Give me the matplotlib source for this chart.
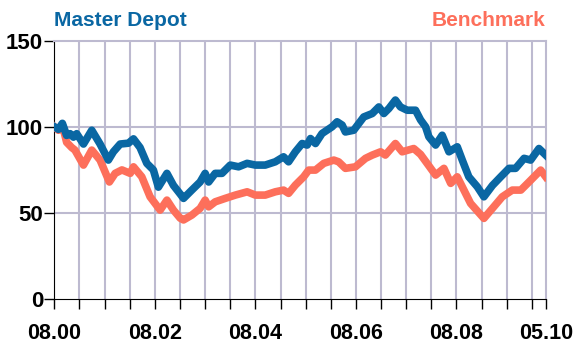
import matplotlib
matplotlib.use('Agg')
import matplotlib.pyplot as plt

# time axis in months since start (gridline spacing = 1)
depot_t = [0.0, 0.16, 0.32, 0.49, 0.63, 0.76, 0.89, 1.16, 1.49, 1.82, 2.15, 2.35, 2.62, 2.95,
           3.15, 3.41, 3.68, 3.94, 4.14, 4.48, 4.74, 5.01, 5.14, 5.47, 5.80, 6.00, 6.14, 6.40,
           6.67, 7.00, 7.33, 7.67, 8.00, 8.39, 8.79, 9.12, 9.32, 9.59, 9.86, 10.06, 10.19,
           10.39, 10.65, 11.05, 11.25, 11.45, 11.58, 11.91, 12.31, 12.65, 12.91, 13.11, 13.31,
           13.57, 13.77, 14.04, 14.37, 14.57, 14.77, 14.90, 15.17, 15.43, 15.70, 16.03, 16.23,
           16.49, 16.83, 17.09, 17.43, 17.76, 18.09, 18.35, 18.69, 18.95, 19.28, 19.55]
depot_v = [100, 98.5, 102, 95, 96, 94, 96, 90, 98, 90, 80.7, 85.5, 90, 90.5,
           93, 88, 78.8, 75, 65, 73, 66, 61, 58.5, 63.3, 68, 73, 68, 73,
           73, 77.8, 76.8, 78.8, 77.8, 77.8, 79.7, 82.6, 79.7, 85.5, 90.3, 89.4, 93.2,
           90.3, 96.1, 100, 102.9, 101, 97, 98, 105.7, 107.7, 111.5, 107.7, 110.6,
           115.5, 111.5, 109.6, 109.6, 104, 100, 94.2, 89.4, 95.1, 85.5, 88.4, 80.7,
           71, 65.2, 59.4, 66, 71, 75.9, 75.9, 81.7, 80.7, 87.4, 83.6]

bench_t = [0.0, 0.16, 0.32, 0.49, 0.69, 0.82, 1.16, 1.49, 1.82, 2.19, 2.42, 2.69, 3.02, 3.15,
           3.48, 3.81, 4.21, 4.48, 4.74, 5.01, 5.14, 5.47, 5.80, 6.00, 6.14, 6.40, 6.80, 7.20,
           7.67, 8.00, 8.39, 8.79, 9.12, 9.32, 9.59, 9.92, 10.12, 10.39, 10.72, 11.12, 11.31,
           11.58, 11.98, 12.38, 12.65, 12.98, 13.17, 13.57, 13.84, 14.30, 14.57, 14.77, 15.17,
           15.50, 15.77, 16.03, 16.23, 16.56, 17.09, 17.43, 17.82, 18.22, 18.56, 18.89, 19.35,
           19.55]
bench_v = [100, 98, 101, 91, 88, 86.5, 77.8, 86.5, 80.7, 68, 73, 75, 73, 76.8,
           71, 59.4, 51.7, 57.5, 51.7, 47, 46, 48.8, 52.7, 57.5, 53.6, 56.5, 58.5, 60.4,
           62.3, 60.4, 60.4, 62.3, 63.3, 61.4, 66.2, 71, 74.9, 74.9, 78.8, 80.7, 79.7,
           75.9, 76.8, 81.7, 83.6, 85.5, 83.6, 90.3, 85.5, 87.4, 84, 80, 72,
           75.9, 67.2, 71, 65.2, 55.6, 46.9, 52.7, 59.4, 63.3, 63.3, 68.1, 74.9,
           71]

x_end = 19.55
xlabel_pos = [0, 4, 8, 12, 16, x_end]
xlabel_txt = ['08.00', '08.02', '08.04', '08.06', '08.08', '05.10']
yticks = [0, 50, 100, 150]

blue = '#0a67a3'
salmon = '#fd6f5b'
gridc = '#bdbad0'

plt.rcParams['font.family'] = ['Liberation Sans', 'DejaVu Sans']
plt.rcParams['font.weight'] = 'bold'

fig = plt.figure(figsize=(5.73, 3.45), dpi=100)
ax = fig.add_axes([0.0948, 0.1325, 0.8576, 0.75])

for i in range(0, 20):
    ax.axvline(i, color=gridc, lw=1.5, zorder=0)
for v in [50, 100]:
    ax.axhline(v, color=gridc, lw=1.5, zorder=0)

ax.plot(bench_t, bench_v, color=salmon, lw=5.5, solid_joinstyle='round', zorder=3)
ax.plot(depot_t, depot_v, color=blue, lw=5.5, solid_joinstyle='round', zorder=4)

ax.set_xlim(0, x_end)
ax.set_ylim(0, 150)

ticks = list(range(0, 20)) + [x_end]
labels = []
for t in ticks:
    if t in xlabel_pos:
        labels.append(xlabel_txt[xlabel_pos.index(t)])
    else:
        labels.append('')
ax.set_xticks(ticks)
ax.set_xticklabels(labels, fontsize=15.5, fontweight='bold')
ax.set_yticks(yticks)
ax.set_yticklabels([str(v) for v in yticks], fontsize=16, fontweight='bold')
ax.tick_params(axis='x', direction='out', length=7, width=1, pad=10, colors='black')
ax.tick_params(axis='y', direction='out', length=7, width=1, pad=1, colors='black')

ax.spines['left'].set_color('black')
ax.spines['bottom'].set_color('black')
ax.spines['top'].set_color(gridc)
ax.spines['right'].set_color(gridc)
ax.spines['top'].set_linewidth(1.5)
ax.spines['right'].set_linewidth(1.5)

fig.text(0.0948, 0.925, 'Master Depot', color=blue, fontsize=15, fontweight='bold',
         ha='left', va='baseline')
fig.text(0.9524, 0.925, 'Benchmark', color=salmon, fontsize=15, fontweight='bold',
         ha='right', va='baseline')

fig.savefig('out.png', dpi=100)
